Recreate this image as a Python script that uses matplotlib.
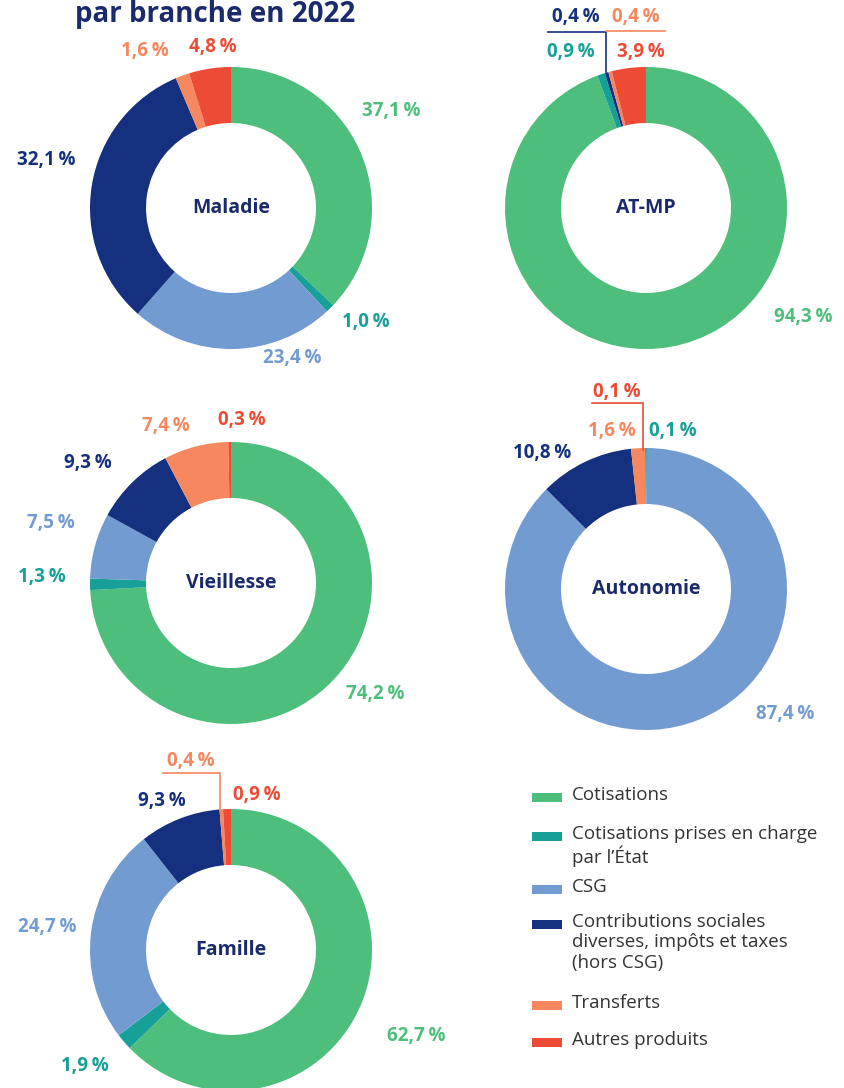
import matplotlib
matplotlib.use("Agg")
import matplotlib.pyplot as plt
from matplotlib.patches import Rectangle

W, H = 844, 1088

# categories / colors (legend order = slice order, clockwise from top)
categories = ["Cotisations",
              "Cotisations prises en charge\npar l\u2019\u00c9tat",
              "CSG",
              "Contributions sociales\ndiverses, imp\u00f4ts et taxes\n(hors CSG)",
              "Transferts",
              "Autres produits"]
colors = ["#4dbe7b", "#17a097", "#729bd2", "#15307f", "#f7875f", "#ee4b37"]
navy = "#1b2a6b"

# shares in % per branch
branches = ["Maladie", "AT-MP", "Vieillesse", "Autonomie", "Famille"]
maladie = [37.1, 1.0, 23.4, 32.1, 1.6, 4.8]
at_mp = [94.3, 0.9, 0.0, 0.4, 0.4, 3.9]
vieillesse = [74.2, 1.3, 7.5, 9.3, 7.4, 0.3]
autonomie = [0.0, 0.1, 87.4, 10.8, 1.6, 0.1]
famille = [62.7, 1.9, 24.7, 9.3, 0.4, 0.9]
values = [maladie, at_mp, vieillesse, autonomie, famille]

# layout (pixel coords, y from top)
centers = [(231, 208), (646, 208), (231, 583), (646, 589), (231, 950)]
R_OUT, RING = 141, 56
label_pos = [
    [(391, 111), (366, 322), (292, 358), (46, 160), (145, 51), (213, 47)],
    [(803, 317), (571, 52), None, (576, 17), (636, 17), (641, 52)],
    [(375, 694), (42, 577), (51, 523), (88, 463), (166, 426), (242, 420)],
    [None, (673, 431), (785, 714), (542, 453), (612, 431), (617, 392)],
    [(416, 1036), (85, 1066), (47, 927), (162, 801), (191, 761), (257, 795)],
]
# leader lines for the tiny slices: (color, xs, ys)
leaders = [
    (colors[3], [548, 606, 606], [32, 32, 72]),
    (colors[4], [606, 665], [31, 31]),
    (colors[5], [592, 643, 643], [403, 403, 450]),
    (colors[4], [163, 220, 220], [773, 773, 810]),
]

FONT = ["Open Sans", "DejaVu Sans"]


def fy(y):
    return H - y


def pct(v):
    return f"{v:.1f}".replace(".", ",") + "\u2009%"


fig = plt.figure(figsize=(W / 100, H / 100), dpi=100)
ax = fig.add_axes([0, 0, 1, 1])

for name, vals, (cx, cy), lbls in zip(branches, values, centers, label_pos):
    ax.pie(vals, colors=colors, center=(cx, fy(cy)), radius=R_OUT,
           startangle=90, counterclock=False,
           wedgeprops=dict(width=RING, linewidth=0))
    ax.text(cx, fy(cy), name, ha="center", va="center", fontsize=14,
            fontweight="bold", color=navy, family=FONT)
    for v, pos, c in zip(vals, lbls, colors):
        if pos is None:
            continue
        ax.text(pos[0], fy(pos[1]), pct(v), ha="center", va="center",
                fontsize=13.5, fontweight="bold", color=c, family=FONT)

for c, xs, ys in leaders:
    ax.plot(xs, [fy(y) for y in ys], color=c, lw=1.2, solid_joinstyle="miter")

# title (first line is cut off in the source)
ax.text(75, fy(22), "par branche en 2022", ha="left", va="baseline",
        fontsize=20, fontweight="bold", color=navy, family=FONT)

# legend
legend_y = [797, 836, 889, 924, 1005, 1042]
for lab, c, y in zip(categories, colors, legend_y):
    ax.add_patch(Rectangle((532, fy(y) - 4.5), 30, 9, color=c, lw=0))
    ax.text(572, fy(y) + 11, lab, ha="left", va="top", fontsize=13.5,
            color="#333333", family=FONT, linespacing=1.17)

ax.set_xlim(0, W)
ax.set_ylim(0, H)
ax.set_aspect("equal")
ax.axis("off")

fig.savefig("out.png", dpi=100)
